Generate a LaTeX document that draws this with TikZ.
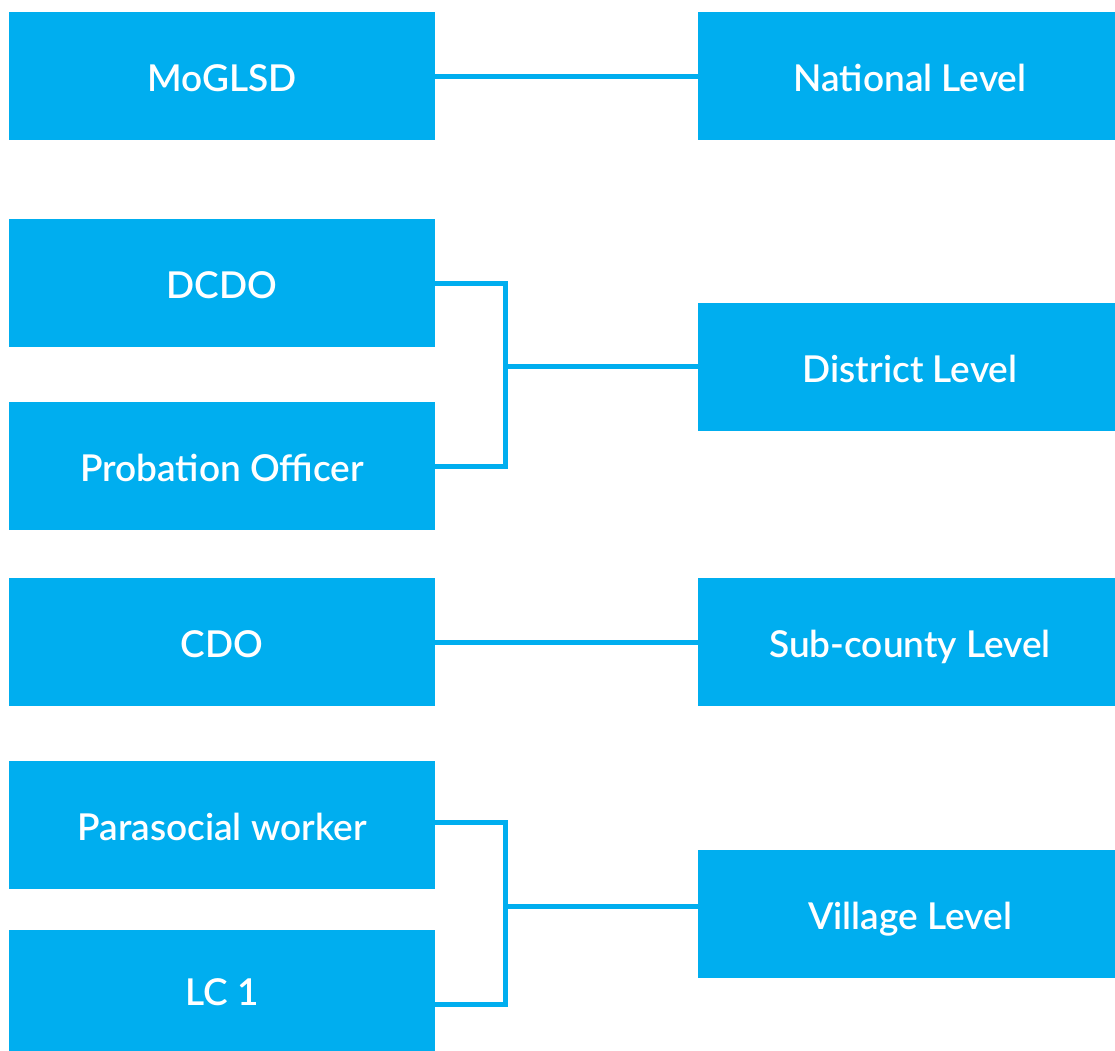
\documentclass[tikz,border=0pt]{standalone}
\usepackage{fontspec}
\setmainfont{Lato}[BoldFont={Lato Semibold}]
\definecolor{boxblue}{HTML}{00AEEF}
\begin{document}
\begin{tikzpicture}[x=1pt,y=-1pt,
  box/.style={fill=boxblue,draw=none,minimum width=426pt,minimum height=128pt,inner sep=0pt,
    text=white,font=\fontsize{37}{44}\selectfont\bfseries,text height=30.6pt,text depth=0pt},
  rbox/.style={box,minimum width=424pt},
  link/.style={draw=boxblue,line width=5pt}]
\useasboundingbox (0,0) rectangle (1115,1050);
\node[box] (mog) at (222,76) {MoGLSD};
\node[rbox] (nat) at (910,76) {National Level};
\node[box] (dcdo) at (222,283) {DCDO};
\node[box] (prob) at (222,466) {Probation Officer};
\node[rbox] (dist) at (910,367) {District Level};
\node[box] (cdo) at (222,642) {CDO};
\node[rbox] (sub) at (910,642) {Sub-county Level};
\node[box] (para) at (222,825) {Parasocial worker};
\node[box,minimum height=121pt] (lc) at (222,990.5) {LC 1};
\node[rbox] (vil) at (910,914) {Village Level};
\coordinate (j1) at (505.5,366.5);
\coordinate (j2) at (505.5,906);
\draw[link] (mog.east) -- (nat.west);
\draw[link] (cdo.east) -- (sub.west);
\draw[link] (dcdo.east |- 0,283) -| (j1) |- (prob.east);
\draw[link] (j1) -- (dist.west |- j1);
\draw[link] (para.east |- 0,822) -| (j2) |- (lc.east |- 0,1004);
\draw[link] (j2) -- (vil.west |- j2);
\end{tikzpicture}
\end{document}
